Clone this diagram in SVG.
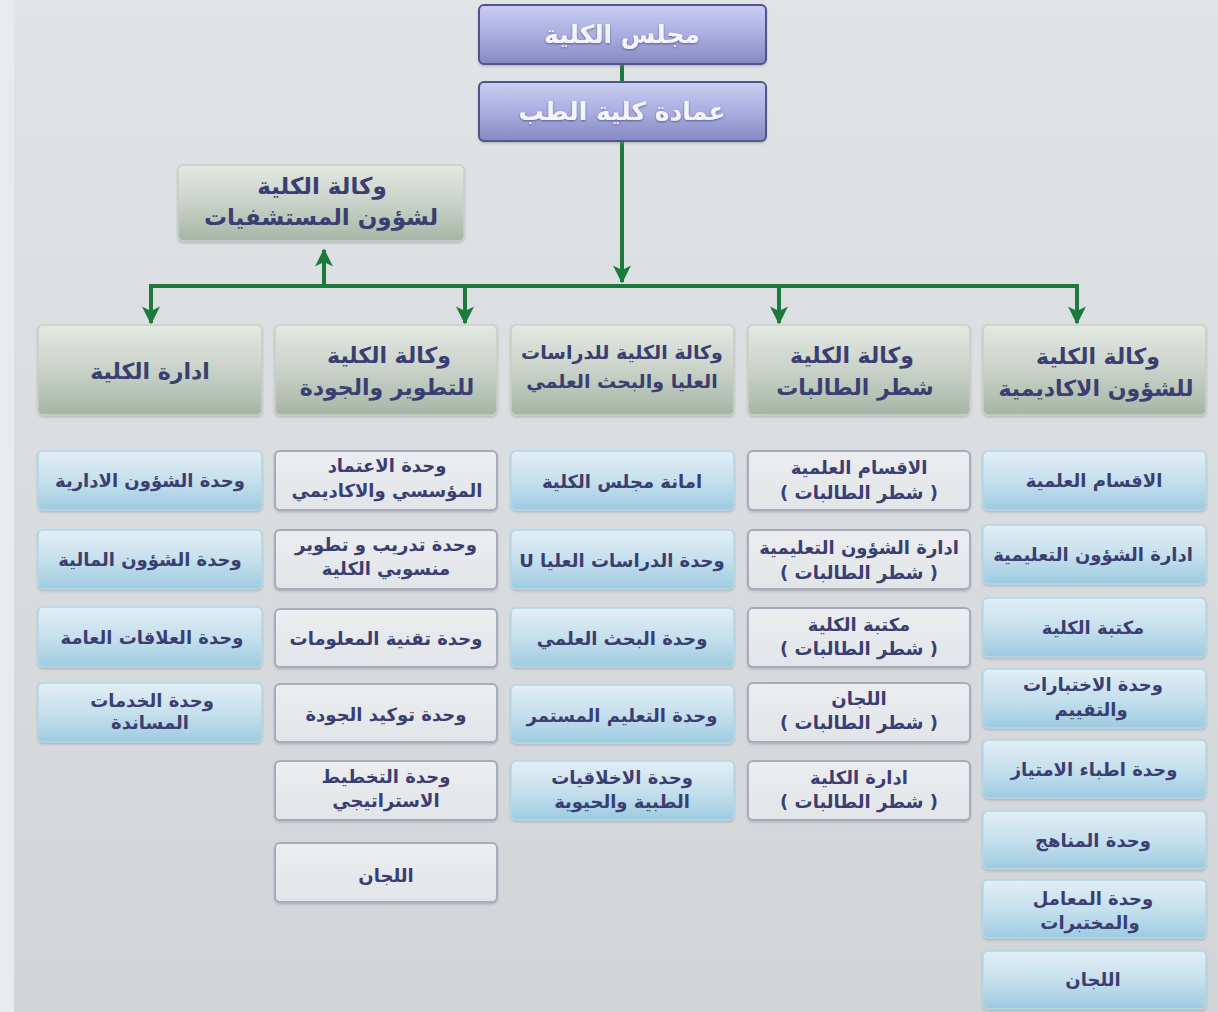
<svg xmlns="http://www.w3.org/2000/svg" width="1218" height="1012" viewBox="0 0 1218 1012">
<defs>
<linearGradient id="bg" x1="0" y1="0" x2="0" y2="1"><stop offset="0" stop-color="#e1e4e6"/><stop offset="1" stop-color="#d2d5d8"/></linearGradient>
<linearGradient id="gTop" x1="0" y1="0" x2="0" y2="1"><stop offset="0" stop-color="#c9cdf3"/><stop offset="0.5" stop-color="#aaaee0"/><stop offset="1" stop-color="#8589c2"/></linearGradient>
<linearGradient id="gHead" x1="0" y1="0" x2="0" y2="1"><stop offset="0" stop-color="#e3e8e3"/><stop offset="0.5" stop-color="#c9d2c8"/><stop offset="1" stop-color="#a6b5a5"/></linearGradient>
<linearGradient id="gBlue" x1="0" y1="0" x2="0" y2="1"><stop offset="0" stop-color="#e2eef5"/><stop offset="0.5" stop-color="#c6e0ed"/><stop offset="1" stop-color="#9dcbe1"/></linearGradient>
<linearGradient id="gWhite" x1="0" y1="0" x2="0" y2="1"><stop offset="0" stop-color="#ebedf0"/><stop offset="1" stop-color="#e2e5e8"/></linearGradient>
<filter id="sh" x="-5%" y="-10%" width="110%" height="125%"><feDropShadow dx="0" dy="1.5" stdDeviation="1.2" flood-color="#808890" flood-opacity="0.45"/></filter>
<filter id="tsh" x="-5%" y="-20%" width="110%" height="150%"><feDropShadow dx="0" dy="1" stdDeviation="0.8" flood-color="#3a3f70" flood-opacity="0.7"/></filter>
<marker id="ah" viewBox="0 0 12 12" refX="11" refY="6" markerWidth="5" markerHeight="4.5" orient="auto" markerUnits="strokeWidth"><path d="M0,0 L12,6 L0,12 L3,6 z" fill="#1b7a3c"/></marker>
</defs>
<style>
.top{fill:url(#gTop);stroke:#4f5488;stroke-width:2;filter:url(#sh)}
.head{fill:url(#gHead);stroke:#c9d1c8;stroke-width:1.5;filter:url(#sh)}
.blue{fill:url(#gBlue);stroke:#b5d7e8;stroke-width:1.5;filter:url(#sh)}
.white{fill:url(#gWhite);stroke:#a9abbb;stroke-width:2;filter:url(#sh)}
text{font-family:"DejaVu Sans","Noto Sans",sans-serif;font-weight:bold;text-anchor:middle;fill:#3b3e70}
.tt{fill:#f4f5fc;font-size:25px;filter:url(#tsh)}
.ht{font-size:22px}
.hh{font-size:23px}
.hs{font-size:19px}
.st{font-size:18px}
.conn{stroke:#1b7a3c;stroke-width:4;fill:none}
</style>
<rect x="0" y="0" width="1218" height="1012" fill="url(#bg)"/>
<rect x="0" y="0" width="14" height="1012" fill="#e8eaec"/>

<g id="connectors">
<line class="conn" x1="622" y1="64" x2="622" y2="82"/>
<line class="conn" x1="622" y1="141" x2="622" y2="282" marker-end="url(#ah)"/>
<line class="conn" x1="149" y1="286" x2="1079" y2="286"/>
<line class="conn" x1="324" y1="286" x2="324" y2="250" marker-end="url(#ah)"/>
<line class="conn" x1="151" y1="286" x2="151" y2="323" marker-end="url(#ah)"/>
<line class="conn" x1="465" y1="286" x2="465" y2="323" marker-end="url(#ah)"/>
<line class="conn" x1="779" y1="286" x2="779" y2="323" marker-end="url(#ah)"/>
<line class="conn" x1="1077" y1="286" x2="1077" y2="323" marker-end="url(#ah)"/>
</g>

<g id="n-council"><rect class="top" x="479" y="5" width="287" height="59" rx="5"/><text class="tt" x="622" y="43">مجلس الكلية</text></g>
<g id="n-dean"><rect class="top" x="479" y="82" width="287" height="59" rx="5"/><text class="tt" x="622" y="120">عمادة كلية الطب</text></g>
<g id="n-hospitals"><rect class="head" x="178" y="165" width="286" height="76" rx="5"/><text class="hh" x="322" y="194">وكالة الكلية</text><text class="hh" x="321" y="225">لشؤون المستشفيات</text></g>

<g id="h-admin"><rect class="head" x="38" y="325" width="224" height="90" rx="5"/><text class="ht" x="150" y="379">ادارة الكلية</text></g>
<g id="h-quality"><rect class="head" x="275" y="325" width="222" height="90" rx="5"/><text class="ht" x="389" y="363">وكالة الكلية</text><text class="ht" x="387" y="395">للتطوير والجودة</text></g>
<g id="h-research"><rect class="head" x="511" y="325" width="223" height="90" rx="5"/><text class="hs" x="622" y="359">وكالة الكلية للدراسات</text><text class="hs" x="622" y="388">العليا والبحث العلمي</text></g>
<g id="h-female"><rect class="head" x="748" y="325" width="222" height="90" rx="5"/><text class="ht" x="852" y="363">وكالة الكلية</text><text class="ht" x="855" y="395">شطر الطالبات</text></g>
<g id="h-academic"><rect class="head" x="983" y="325" width="223" height="90" rx="5"/><text class="ht" x="1098" y="364">وكالة الكلية</text><text class="ht" x="1096" y="396">للشؤون الاكاديمية</text></g>

<!-- column 1 -->
<g id="c1-1"><rect class="blue" x="38" y="451" width="224" height="59" rx="5"/><text class="st" x="150" y="487">وحدة الشؤون الادارية</text></g>
<g id="c1-2"><rect class="blue" x="38" y="530" width="224" height="59" rx="5"/><text class="st" x="150" y="566">وحدة الشؤون المالية</text></g>
<g id="c1-3"><rect class="blue" x="38" y="607" width="224" height="60" rx="5"/><text class="st" x="152" y="644">وحدة العلاقات العامة</text></g>
<g id="c1-4"><rect class="blue" x="38" y="683" width="224" height="59" rx="5"/><text class="st" x="152" y="707">وحدة الخدمات</text><text class="st" x="150" y="729">المساندة</text></g>

<!-- column 2 -->
<g id="c2-1"><rect class="white" x="275" y="451" width="222" height="59" rx="5"/><text class="st" x="387" y="472">وحدة الاعتماد</text><text class="st" x="387" y="497">المؤسسي والاكاديمي</text></g>
<g id="c2-2"><rect class="white" x="275" y="530" width="222" height="59" rx="5"/><text class="st" x="386" y="551">وحدة تدريب و تطوير</text><text class="st" x="386" y="575">منسوبي الكلية</text></g>
<g id="c2-3"><rect class="white" x="275" y="609" width="222" height="58" rx="5"/><text class="st" x="386" y="645">وحدة تقنية المعلومات</text></g>
<g id="c2-4"><rect class="white" x="275" y="684" width="222" height="58" rx="5"/><text class="st" x="386" y="721">وحدة توكيد الجودة</text></g>
<g id="c2-5"><rect class="white" x="275" y="761" width="222" height="59" rx="5"/><text class="st" x="386" y="783">وحدة التخطيط</text><text class="st" x="386" y="807">الاستراتيجي</text></g>
<g id="c2-6"><rect class="white" x="275" y="843" width="222" height="59" rx="5"/><text class="st" x="386" y="882">اللجان</text></g>

<!-- column 3 -->
<g id="c3-1"><rect class="blue" x="511" y="451" width="223" height="59" rx="5"/><text class="st" x="622" y="488">امانة مجلس الكلية</text></g>
<g id="c3-2"><rect class="blue" x="511" y="530" width="223" height="59" rx="5"/><text class="st" x="622" y="567" direction="rtl">وحدة الدراسات العليا U</text></g>
<g id="c3-3"><rect class="blue" x="511" y="608" width="223" height="59" rx="5"/><text class="st" x="622" y="645">وحدة البحث العلمي</text></g>
<g id="c3-4"><rect class="blue" x="511" y="685" width="223" height="58" rx="5"/><text class="st" x="622" y="722">وحدة التعليم المستمر</text></g>
<g id="c3-5"><rect class="blue" x="511" y="761" width="223" height="59" rx="5"/><text class="st" x="622" y="784">وحدة الاخلاقيات</text><text class="st" x="622" y="808">الطبية والحيوية</text></g>

<!-- column 4 -->
<g id="c4-1"><rect class="white" x="748" y="451" width="222" height="59" rx="5"/><text class="st" x="859" y="474">الاقسام العلمية</text><text class="st" x="859" y="499" direction="rtl">( شطر الطالبات )</text></g>
<g id="c4-2"><rect class="white" x="748" y="530" width="222" height="59" rx="5"/><text class="st" x="859" y="554">ادارة الشؤون التعليمية</text><text class="st" x="859" y="579" direction="rtl">( شطر الطالبات )</text></g>
<g id="c4-3"><rect class="white" x="748" y="608" width="222" height="59" rx="5"/><text class="st" x="859" y="631">مكتبة الكلية</text><text class="st" x="859" y="655" direction="rtl">( شطر الطالبات )</text></g>
<g id="c4-4"><rect class="white" x="748" y="683" width="222" height="59" rx="5"/><text class="st" x="859" y="705">اللجان</text><text class="st" x="859" y="729" direction="rtl">( شطر الطالبات )</text></g>
<g id="c4-5"><rect class="white" x="748" y="761" width="222" height="59" rx="5"/><text class="st" x="859" y="784">ادارة الكلية</text><text class="st" x="859" y="808" direction="rtl">( شطر الطالبات )</text></g>

<!-- column 5 -->
<g id="c5-1"><rect class="blue" x="983" y="451" width="223" height="59" rx="5"/><text class="st" x="1094" y="487">الاقسام العلمية</text></g>
<g id="c5-2"><rect class="blue" x="983" y="525" width="223" height="59" rx="5"/><text class="st" x="1093" y="561">ادارة الشؤون التعليمية</text></g>
<g id="c5-3"><rect class="blue" x="983" y="598" width="223" height="59" rx="5"/><text class="st" x="1093" y="634">مكتبة الكلية</text></g>
<g id="c5-4"><rect class="blue" x="983" y="669" width="223" height="59" rx="5"/><text class="st" x="1093" y="691">وحدة الاختبارات</text><text class="st" x="1091" y="716">والتقييم</text></g>
<g id="c5-5"><rect class="blue" x="983" y="740" width="223" height="58" rx="5"/><text class="st" x="1094" y="776">وحدة اطباء الامتياز</text></g>
<g id="c5-6"><rect class="blue" x="983" y="811" width="223" height="58" rx="5"/><text class="st" x="1093" y="847">وحدة المناهج</text></g>
<g id="c5-7"><rect class="blue" x="983" y="880" width="223" height="58" rx="5"/><text class="st" x="1093" y="905">وحدة المعامل</text><text class="st" x="1090" y="929">والمختبرات</text></g>
<g id="c5-8"><rect class="blue" x="983" y="951" width="223" height="58" rx="5"/><text class="st" x="1093" y="986">اللجان</text></g>
</svg>
